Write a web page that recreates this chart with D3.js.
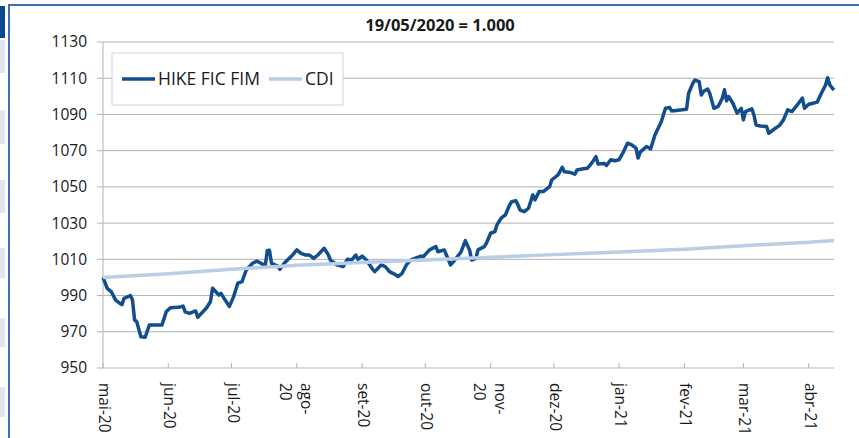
<!DOCTYPE html>
<html>
<head>
<meta charset="utf-8">
<script src="https://cdn.jsdelivr.net/npm/d3@7"></script>
<style>
  body { margin: 0; background: #fff; }
  svg { display: block; font-family: "Open Sans", sans-serif; }
</style>
</head>
<body>
<div id="chart"></div>
<script>
// values
const hikeSeries = [
  ["2020-05-19",1000.0],["2020-05-21",994.0],["2020-05-23",992.0],["2020-05-25",987.5],["2020-05-27",985.7],
  ["2020-05-28",985.0],["2020-05-29",988.5],["2020-06-01",990.0],["2020-06-02",987.5],["2020-06-03",976.5],
  ["2020-06-04",975.6],["2020-06-06",967.3],["2020-06-08",967.0],["2020-06-10",973.7],["2020-06-16",973.7],
  ["2020-06-18",981.0],["2020-06-20",983.3],["2020-06-24",983.5],["2020-06-26",984.2],["2020-06-27",981.0],
  ["2020-06-29",980.2],["2020-07-02",981.5],["2020-07-03",978.0],["2020-07-04",979.3],["2020-07-07",983.0],
  ["2020-07-09",986.6],["2020-07-10",994.0],["2020-07-13",990.3],["2020-07-14",991.2],["2020-07-16",987.5],
  ["2020-07-18",984.0],["2020-07-20",989.4],["2020-07-22",996.8],["2020-07-24",997.7],["2020-07-26",1004.1],
  ["2020-07-29",1007.8],["2020-07-31",1009.0],["2020-08-02",1007.8],["2020-08-04",1006.3],["2020-08-05",1014.9],
  ["2020-08-06",1015.0],["2020-08-07",1007.8],["2020-08-10",1006.3],["2020-08-11",1004.5],["2020-08-13",1007.8],
  ["2020-08-17",1012.4],["2020-08-19",1015.2],["2020-08-21",1013.3],["2020-08-23",1012.4],["2020-08-25",1012.4],
  ["2020-08-27",1010.5],["2020-08-29",1012.4],["2020-09-01",1016.1],["2020-09-03",1012.4],["2020-09-04",1009.5],
  ["2020-09-07",1007.0],["2020-09-10",1006.0],["2020-09-12",1010.0],["2020-09-14",1009.6],["2020-09-16",1012.4],
  ["2020-09-17",1010.0],["2020-09-19",1011.8],["2020-09-21",1009.6],["2020-09-24",1004.5],["2020-09-25",1003.2],
  ["2020-09-28",1006.9],["2020-09-30",1006.0],["2020-10-02",1003.2],["2020-10-05",1001.4],["2020-10-06",1000.5],
  ["2020-10-08",1002.3],["2020-10-10",1006.9],["2020-10-12",1009.6],["2020-10-14",1010.5],["2020-10-17",1011.8],
  ["2020-10-18",1011.4],["2020-10-21",1015.2],["2020-10-24",1017.0],["2020-10-25",1014.2],["2020-10-28",1015.2],
  ["2020-10-29",1012.4],["2020-10-31",1006.9],["2020-11-02",1009.6],["2020-11-05",1014.2],["2020-11-07",1020.3],
  ["2020-11-09",1015.2],["2020-11-10",1009.6],["2020-11-12",1010.5],["2020-11-13",1015.2],["2020-11-16",1017.0],
  ["2020-11-17",1018.9],["2020-11-19",1024.4],["2020-11-21",1025.3],["2020-11-22",1029.0],["2020-11-24",1032.7],
  ["2020-11-26",1034.5],["2020-11-28",1040.0],["2020-11-29",1041.8],["2020-12-01",1042.4],["2020-12-02",1040.0],
  ["2020-12-03",1037.2],["2020-12-05",1036.3],["2020-12-07",1038.2],["2020-12-09",1045.5],["2020-12-10",1042.8],
  ["2020-12-12",1047.4],["2020-12-14",1047.4],["2020-12-17",1050.1],["2020-12-18",1053.8],["2020-12-21",1056.6],
  ["2020-12-23",1060.8],["2020-12-24",1058.4],["2020-12-27",1057.9],["2020-12-29",1057.0],["2020-12-30",1059.3],
  ["2021-01-02",1060.0],["2021-01-04",1060.3],["2021-01-06",1063.1],["2021-01-08",1066.7],["2021-01-09",1062.6],
  ["2021-01-12",1062.9],["2021-01-13",1061.8],["2021-01-15",1065.0],["2021-01-17",1064.4],["2021-01-19",1065.0],
  ["2021-01-21",1069.2],["2021-01-23",1074.1],["2021-01-25",1073.2],["2021-01-27",1071.4],["2021-01-28",1065.9],
  ["2021-01-29",1069.2],["2021-02-01",1072.3],["2021-02-03",1071.0],["2021-02-05",1078.7],["2021-02-08",1086.0],
  ["2021-02-10",1093.4],["2021-02-12",1093.8],["2021-02-13",1091.9],["2021-02-17",1092.5],["2021-02-20",1092.9],
  ["2021-02-21",1101.7],["2021-02-23",1107.2],["2021-02-24",1109.0],["2021-02-26",1108.1],["2021-02-27",1100.7],
  ["2021-02-28",1102.6],["2021-03-02",1104.0],["2021-03-03",1101.7],["2021-03-05",1093.4],["2021-03-07",1094.4],
  ["2021-03-09",1099.0],["2021-03-10",1103.6],["2021-03-11",1097.5],["2021-03-12",1099.9],["2021-03-14",1096.2],
  ["2021-03-16",1090.7],["2021-03-18",1093.4],["2021-03-19",1087.0],["2021-03-20",1091.6],["2021-03-23",1093.1],
  ["2021-03-24",1089.7],["2021-03-25",1084.2],["2021-03-27",1083.6],["2021-03-30",1083.3],["2021-03-31",1079.6],
  ["2021-04-02",1081.4],["2021-04-05",1083.8],["2021-04-07",1087.0],["2021-04-09",1092.5],["2021-04-11",1091.6],
  ["2021-04-13",1094.4],["2021-04-16",1099.0],["2021-04-17",1093.4],["2021-04-19",1095.6],["2021-04-21",1096.2],
  ["2021-04-23",1096.8],["2021-04-25",1101.7],["2021-04-27",1106.3],["2021-04-28",1110.3],["2021-04-29",1106.3],
  ["2021-04-30",1104.8],["2021-05-01",1103.5]
];

const cdiSeries = [
  ["2020-05-19",1000.0],["2020-06-19",1002.0],["2020-07-19",1004.5],["2020-08-19",1006.7],
  ["2020-09-19",1008.3],["2020-10-19",1009.6],["2020-11-19",1011.2],["2020-12-19",1012.6],
  ["2021-01-19",1014.0],["2021-02-19",1015.6],["2021-03-19",1017.5],["2021-04-19",1019.5],
  ["2021-05-01",1020.4]
];

const tickDates = ["2020-05-19","2020-06-19","2020-07-19","2020-08-19","2020-09-19","2020-10-19",
                   "2020-11-19","2020-12-19","2021-01-19","2021-02-19","2021-03-19","2021-04-19"];
const tickLabels = ["mai-20","jun-20","jul-20","ago-\n20","set-20","out-20",
                    "nov-\n20","dez-20","jan-21","fev-21","mar-21","abr-21"];
const yTicks = [950, 970, 990, 1010, 1030, 1050, 1070, 1090, 1110, 1130];
const seriesNames = ["HIKE FIC FIM", "CDI"];
const seriesColors = ["#124d8e", "#b9cde5"];
const chartTitle = "19/05/2020 = 1.000";

const parse = d3.timeParse("%Y-%m-%d");

let margin = { top: 42, right: 25, bottom: 70, left: 103 },
    width = 859 - margin.left - margin.right,
    height = 438 - margin.top - margin.bottom;

let root = d3.select("#chart").append("svg")
    .attr("width", 859)
    .attr("height", 438);

// page frame bits around the chart
let strip = [[40,73],[110,144],[180,213],[248,278],[318,347],[387,417]];
root.append("rect").attr("x", 0).attr("y", 6).attr("width", 5).attr("height", 32).attr("fill", "#0b4a8e");
root.selectAll(".strip").data(strip).enter().append("rect")
    .attr("class", "strip")
    .attr("x", 0).attr("y", d => d[0])
    .attr("width", 5).attr("height", d => d[1] - d[0])
    .attr("fill", "#dde6f1");
root.append("path")
    .attr("d", "M9,438V5H859")
    .attr("fill", "none")
    .attr("stroke", "#3f6fb0")
    .attr("stroke-width", 2);

let svg = root.append("g")
    .attr("transform", "translate(" + margin.left + "," + margin.top + ")");

let x = d3.scaleTime()
    .domain([parse("2020-05-19"), parse("2021-05-01")])
    .range([0, width]);
let y = d3.scaleLinear().domain([950, 1130]).range([height, 0]);

// gridlines + y labels
svg.selectAll(".grid").data(yTicks).enter().append("line")
    .attr("class", "grid")
    .attr("x1", -6).attr("x2", width)
    .attr("y1", d => y(d)).attr("y2", d => y(d))
    .attr("stroke", "#b3b3b3").attr("stroke-width", 1);

svg.selectAll(".ylab").data(yTicks).enter().append("text")
    .attr("class", "ylab")
    .attr("x", -16).attr("y", d => y(d))
    .attr("dy", "0.35em")
    .attr("text-anchor", "end")
    .style("font-size", "15.5px")
    .style("fill", "#1a1a1a")
    .text(d => d);

svg.append("line")
    .attr("x1", 0).attr("x2", 0).attr("y1", 0).attr("y2", height)
    .attr("stroke", "#b3b3b3");

// x ticks point up into the plot
svg.selectAll(".xtick").data(tickDates).enter().append("line")
    .attr("class", "xtick")
    .attr("x1", d => x(parse(d))).attr("x2", d => x(parse(d)))
    .attr("y1", height).attr("y2", height - 5)
    .attr("stroke", "#b3b3b3");

let xlab = svg.selectAll(".xlab").data(tickDates).enter().append("text")
    .attr("class", "xlab")
    .attr("transform", d => "translate(" + x(parse(d)) + "," + (height + 15) + ") rotate(90)")
    .style("font-size", "15.5px")
    .style("fill", "#1a1a1a");

xlab.each(function(d, i) {
    let parts = tickLabels[i].split("\n");
    let t = d3.select(this);
    if (parts.length === 1) {
        t.append("tspan").attr("x", 0).attr("dy", "4px").text(parts[0]);
    } else {
        t.append("tspan").attr("x", 0).attr("dy", "-4px").text(parts[0]);
        t.append("tspan").attr("x", 0).attr("dy", "21px").text(parts[1]);
    }
});

// lines
let line = d3.line()
    .x(d => x(parse(d[0])))
    .y(d => y(d[1]));

[hikeSeries, cdiSeries].forEach((s, i) => {
    svg.append("path")
        .datum(s)
        .attr("fill", "none")
        .attr("stroke", seriesColors[i])
        .attr("stroke-width", 3.5)
        .attr("stroke-linejoin", "round")
        .attr("d", line);
});

// legend
let legend = svg.append("g").attr("transform", "translate(9,11)");
legend.append("rect")
    .attr("width", 231).attr("height", 52)
    .attr("fill", "#fff")
    .attr("stroke", "#c6d6ea");

let lx = 10;
seriesNames.forEach((name, i) => {
    legend.append("line")
        .attr("x1", lx).attr("x2", lx + 33)
        .attr("y1", 26).attr("y2", 26)
        .attr("stroke", seriesColors[i])
        .attr("stroke-width", 3.5);
    let t = legend.append("text")
        .attr("x", lx + 36).attr("y", 26)
        .attr("dy", "0.36em")
        .style("font-size", "17.5px")
        .style("fill", "#1a1a1a")
        .text(name);
    lx = lx + 36 + t.node().getComputedTextLength() + 9;
});

// title
root.append("text")
    .attr("x", 440).attr("y", 31)
    .attr("text-anchor", "middle")
    .style("font-size", "16.5px")
    .style("font-weight", "bold")
    .style("fill", "#1a1a1a")
    .text(chartTitle);
</script>
</body>
</html>
